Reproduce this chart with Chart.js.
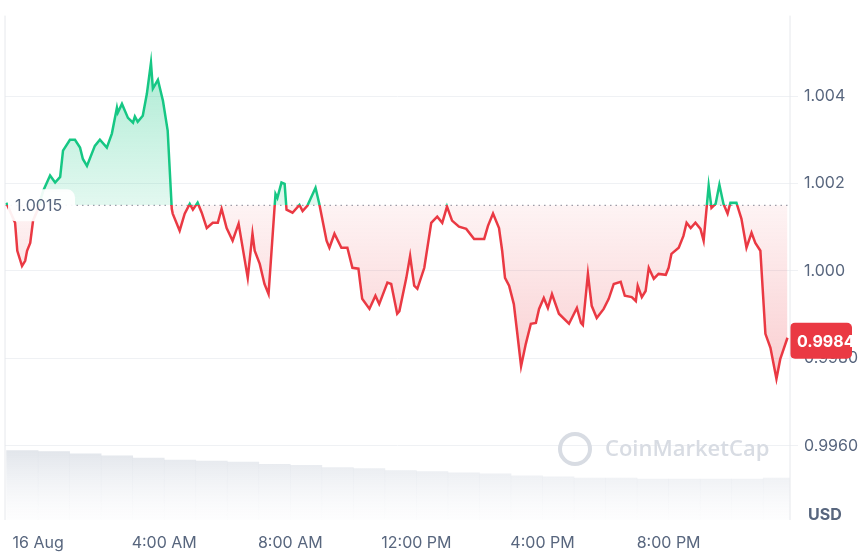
<!DOCTYPE html>
<html><head><meta charset="utf-8">
<script src="https://cdn.jsdelivr.net/npm/chart.js@4/dist/chart.umd.min.js"></script>
<style>html,body{margin:0;padding:0;background:#fff;}#w{width:865px;height:552px;position:relative;}</style>
</head><body><div id="w"><canvas id="c" width="865" height="552"></canvas></div>
<script>
const hours=[-1.01,-0.73,-0.66,-0.51,-0.41,-0.35,-0.25,-0.16,-0.03,0.16,0.38,0.54,0.70,0.79,1.01,1.17,1.33,1.42,1.55,1.80,1.96,2.18,2.34,2.50,2.53,2.66,2.85,3.01,3.07,3.16,3.32,3.45,3.58,3.64,3.80,3.96,4.11,4.24,4.27,4.49,4.65,4.81,4.91,5.06,5.19,5.35,5.54,5.70,5.82,5.98,6.17,6.36,6.65,6.80,6.87,7.03,7.18,7.31,7.53,7.59,7.72,7.82,7.88,8.07,8.29,8.39,8.54,8.80,8.92,9.15,9.24,9.40,9.62,9.81,9.97,10.16,10.28,10.51,10.70,10.82,11.08,11.20,11.39,11.46,11.68,11.80,11.93,12.03,12.25,12.47,12.66,12.82,12.97,13.13,13.35,13.58,13.83,14.15,14.27,14.43,14.62,14.72,14.81,14.94,15.09,15.19,15.32,15.47,15.63,15.79,15.89,16.04,16.17,16.30,16.52,16.84,17.09,17.22,17.28,17.44,17.56,17.72,17.94,18.10,18.26,18.48,18.61,18.83,18.96,19.02,19.15,19.27,19.37,19.53,19.68,19.91,20.00,20.09,20.32,20.47,20.57,20.70,20.85,21.01,21.11,21.27,21.36,21.49,21.61,21.74,21.87,21.96,22.15,22.31,22.47,22.63,22.75,22.91,23.07,23.23,23.42,23.54,23.77];
const prices=[1.00156,1.00110,1.00046,1.00011,1.00023,1.00046,1.00064,1.00115,1.00137,1.00183,1.00218,1.00202,1.00215,1.00275,1.00300,1.00300,1.00282,1.00256,1.00240,1.00286,1.00300,1.00282,1.00314,1.00373,1.00362,1.00382,1.00350,1.00339,1.00353,1.00341,1.00355,1.00405,1.00476,1.00417,1.00437,1.00389,1.00321,1.00142,1.00131,1.00092,1.00131,1.00153,1.00140,1.00156,1.00133,1.00098,1.00110,1.00110,1.00142,1.00098,1.00069,1.00108,0.99984,1.00085,1.00046,1.00016,0.99970,0.99947,1.00176,1.00167,1.00202,1.00199,1.00140,1.00133,1.00151,1.00137,1.00149,1.00190,1.00153,1.00069,1.00053,1.00085,1.00053,1.00053,1.00007,1.00005,0.99936,0.99913,0.99943,0.99924,0.99973,0.99970,0.99902,0.99908,0.99984,1.00034,0.99966,0.99959,1.00007,1.00110,1.00124,1.00110,1.00147,1.00115,1.00101,1.00096,1.00073,1.00073,1.00103,1.00131,1.00098,1.00046,0.99984,0.99966,0.99924,0.99863,0.99782,0.99833,0.99879,0.99881,0.99913,0.99938,0.99915,0.99947,0.99902,0.99879,0.99915,0.99881,0.99876,0.99993,0.99920,0.99892,0.99913,0.99936,0.99970,0.99975,0.99943,0.99940,0.99931,0.99966,0.99940,0.99954,1.00007,0.99982,0.99993,0.99991,1.00007,1.00039,1.00053,1.00080,1.00110,1.00098,1.00110,1.00096,1.00069,1.00195,1.00144,1.00153,1.00197,1.00153,1.00131,1.00156,1.00156,1.00119,1.00053,1.00087,1.00064,1.00046,0.99856,0.99824,0.99753,0.99798,0.99847];
const volHours=[-0.5,0.5,1.5,2.5,3.5,4.5,5.5,6.5,7.5,8.5,9.5,10.5,11.5,12.5,13.5,14.5,15.5,16.5,17.5,18.5,19.5,20.5,21.5,22.5,23.5];
const volumes=[66,65,63,61,59,57,56,55,53,52,50,49,47,46,45,44,42,41,40,40,39,39,39,39,40];
const xTickHours=[0,4,8,12,16,20];
const xTickLabels=['16 Aug','4:00 AM','8:00 AM','12:00 PM','4:00 PM','8:00 PM'];
const yTickValues=[0.996,0.998,1.000,1.002,1.004];
const yTickLabels=['0.9960','0.9980','1.000','1.002','1.004'];
const baseline=1.0015;
const lastPrice='0.9984';
const GREEN='#16c784',RED='#ea3943',TXT='#58667e';

function splitGrad(chart,top,bottom){
  const {ctx,chartArea,scales}=chart; if(!chartArea) return top;
  const y=scales.y.getPixelForValue(baseline);
  const f=Math.min(1,Math.max(0,(y-chartArea.top)/(chartArea.bottom-chartArea.top)));
  const g=ctx.createLinearGradient(0,chartArea.top,0,chartArea.bottom);
  g.addColorStop(0,top);g.addColorStop(f,top);g.addColorStop(f,bottom);g.addColorStop(1,bottom);return g;
}
function fillGrad(chart){
  const {ctx,chartArea,scales}=chart; if(!chartArea) return 'transparent';
  const y=scales.y.getPixelForValue(baseline);
  const yTop=scales.y.getPixelForValue(1.0048), yBot=scales.y.getPixelForValue(0.9975);
  const g=ctx.createLinearGradient(0,yTop,0,yBot);
  const h=(v)=>Math.min(1,Math.max(0,(v-yTop)/(yBot-yTop)));
  g.addColorStop(0,'rgba(22,199,132,0.35)');g.addColorStop(h(y),'rgba(22,199,132,0.12)');
  g.addColorStop(h(y),'rgba(234,57,67,0.06)');g.addColorStop(1,'rgba(234,57,67,0.25)');return g;
}
function volGrad(chart){
  const {ctx,chartArea}=chart; if(!chartArea) return '#eff1f4';
  const g=ctx.createLinearGradient(0,chartArea.bottom-70,0,chartArea.bottom);
  g.addColorStop(0,'rgba(222,226,232,0.9)');g.addColorStop(0.45,'rgba(232,235,240,0.6)');g.addColorStop(1,'rgba(245,246,248,0.2)');return g;
}
const overlay={id:'overlay',
 beforeDatasetsDraw(chart){const {ctx,chartArea:a,scales}=chart;const y=scales.y.getPixelForValue(baseline);
  ctx.save();ctx.strokeStyle='#9aa0ab';ctx.lineWidth=1.2;ctx.setLineDash([1.5,4]);ctx.beginPath();ctx.moveTo(a.left,y);ctx.lineTo(a.right,y);ctx.stroke();ctx.restore();
  ctx.save();ctx.font='600 22px "Open Sans", sans-serif';ctx.fillStyle='#d8dce3';ctx.textBaseline='middle';
  ctx.fillText('CoinMarketCap',605,450);ctx.strokeStyle='#d8dce3';ctx.lineWidth=4;ctx.beginPath();ctx.arc(575,449,15,0,Math.PI*2);ctx.stroke();ctx.restore();},
 afterDatasetsDraw(chart){const {ctx,chartArea:a,scales}=chart;const y=scales.y.getPixelForValue(baseline);
  ctx.save();ctx.fillStyle='rgba(255,255,255,0.92)';ctx.beginPath();ctx.roundRect(a.left+3,y-16,67,32,8);ctx.fill();
  ctx.fillStyle=TXT;ctx.font='16px Inter, sans-serif';ctx.textBaseline='middle';ctx.fillText(baseline.toFixed(4),a.left+10,y+1);
  const ly=scales.y.getPixelForValue(parseFloat(lastPrice));ctx.fillStyle=RED;ctx.beginPath();ctx.roundRect(a.right,ly-18,62,36,5);ctx.fill();
  ctx.fillStyle='#fff';ctx.font='bold 16px Inter, sans-serif';ctx.fillText(lastPrice,a.right+7,ly+1);
  ctx.fillStyle=TXT;ctx.font='bold 16px Inter, sans-serif';ctx.fillText('USD',808,515);
  ctx.strokeStyle='#e6e8ec';ctx.lineWidth=1;ctx.beginPath();ctx.moveTo(a.left,a.top);ctx.lineTo(a.left,a.bottom);ctx.moveTo(a.right,a.top);ctx.lineTo(a.right,a.bottom);ctx.stroke();
  ctx.restore();}
};
new Chart(document.getElementById('c'),{
 data:{datasets:[
  {type:'line',data:hours.map((h,i)=>({x:h,y:prices[i]})),yAxisID:'y',borderWidth:2.5,pointRadius:0,tension:0,
   borderColor:c=>splitGrad(c.chart,GREEN,RED),backgroundColor:c=>fillGrad(c.chart),fill:{target:{value:baseline}},order:1},
  {type:'bar',data:volHours.map((h,i)=>({x:h,y:volumes[i]})),yAxisID:'v',backgroundColor:c=>volGrad(c.chart),barPercentage:1,categoryPercentage:1,order:2}
 ]},
 options:{responsive:false,animation:false,devicePixelRatio:1,layout:{padding:{left:5,top:5,right:0,bottom:0}},
  plugins:{legend:{display:false},tooltip:{enabled:false}},
  scales:{
   x:{type:'linear',offset:false,min:-1.05,max:23.85,grid:{display:false,offset:false},border:{display:false},
     afterBuildTicks:s=>{s.ticks=xTickHours.map(v=>({value:v}));},
     ticks:{autoSkip:false,maxRotation:0,color:TXT,font:{size:16,family:'Inter'},padding:6,callback:v=>xTickLabels[xTickHours.indexOf(v)]},
     afterFit:s=>{s.height=32;}},
   y:{position:'right',min:0.99430,max:1.00584,grid:{color:'#eff1f4'},border:{display:false},
     afterBuildTicks:s=>{s.ticks=yTickValues.map(v=>({value:v}));},
     ticks:{color:TXT,font:{size:16,family:'Inter'},padding:6,callback:v=>yTickLabels[yTickValues.findIndex(t=>Math.abs(t-v)<1e-7)]},
     afterFit:s=>{s.width=75;}},
   v:{display:false,min:0,max:480}
  }}
 ,plugins:[overlay]});
</script></body></html>
